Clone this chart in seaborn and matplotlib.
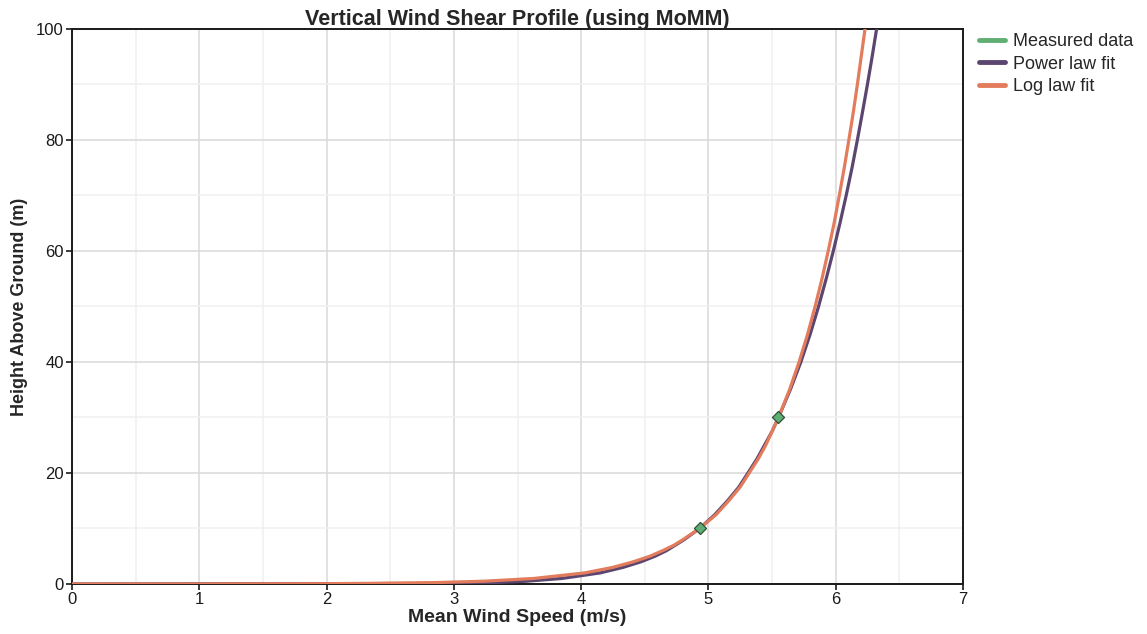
import matplotlib
matplotlib.use("Agg")
import matplotlib.pyplot as plt
from matplotlib.lines import Line2D
from matplotlib.ticker import MultipleLocator
import seaborn as sns
import pandas as pd

# ---- data ----
measured_speed = [4.93, 5.55]
measured_height = [10, 30]

power_height = [0, 0.1, 0.25, 0.5, 1, 2, 3, 4, 5, 6, 7, 8, 10, 12.5, 15, 17.5, 20, 22.5, 25, 27.5, 30,
                35, 40, 45, 50, 55, 60, 65, 70, 75, 80, 85, 90, 95, 100, 105]
power_speed = [0.0, 3.00, 3.31, 3.57, 3.85, 4.15, 4.33, 4.47, 4.58, 4.67, 4.74, 4.81, 4.93, 5.05, 5.15,
               5.24, 5.31, 5.38, 5.44, 5.50, 5.55, 5.643, 5.726, 5.799, 5.865, 5.925, 5.981, 6.033,
               6.082, 6.128, 6.170, 6.210, 6.249, 6.286, 6.321, 6.354]

log_height = [0, 0.01, 0.05, 0.1, 0.25, 0.5, 1, 2, 3, 4, 5, 6, 7, 8, 10, 12.5, 15, 17.5, 20, 22.5, 25,
              27.5, 30, 35, 40, 45, 50, 55, 60, 65, 70, 75, 80, 85, 90, 95, 100, 105]
log_speed = [0.0, 1.03, 1.94, 2.33, 2.85, 3.24, 3.63, 4.03, 4.25, 4.41, 4.54, 4.64, 4.73, 4.80, 4.93,
             5.06, 5.16, 5.25, 5.32, 5.39, 5.45, 5.50, 5.55, 5.637, 5.712, 5.779, 5.838, 5.892, 5.941,
             5.987, 6.028, 6.067, 6.103, 6.138, 6.170, 6.200, 6.230, 6.257]

series_names = ["Measured data", "Power law fit", "Log law fit"]
colors = {"Measured data": "#5fae74", "Power law fit": "#5b4670", "Log law fit": "#e27c5c"}

title = "Vertical Wind Shear Profile (using MoMM)"
xlabel = "Mean Wind Speed (m/s)"
ylabel = "Height Above Ground (m)"

# ---- build frames ----
df_fit = pd.concat([
    pd.DataFrame({"speed": power_speed, "height": power_height, "series": "Power law fit"}),
    pd.DataFrame({"speed": log_speed, "height": log_height, "series": "Log law fit"}),
])
df_meas = pd.DataFrame({"speed": measured_speed, "height": measured_height, "series": "Measured data"})

sns.set_style("white")
plt.rcParams["font.family"] = ["Liberation Sans", "DejaVu Sans"]

fig = plt.figure(figsize=(11.47, 6.34), dpi=100)
ax = fig.add_axes([0.0628, 0.0789, 0.7768, 0.8754])

sns.lineplot(data=df_fit, x="speed", y="height", hue="series", sort=False,
             palette=colors, hue_order=["Power law fit", "Log law fit"],
             linewidth=2.3, estimator=None, legend=False, ax=ax, zorder=3)
sns.scatterplot(data=df_meas, x="speed", y="height", color=colors["Measured data"],
                marker="D", s=38, edgecolor="#2f4f38", linewidth=0.9, legend=False, ax=ax, zorder=5)

ax.set_xlim(0, 7)
ax.set_ylim(0, 100)
ax.xaxis.set_major_locator(MultipleLocator(1))
ax.xaxis.set_minor_locator(MultipleLocator(0.5))
ax.yaxis.set_major_locator(MultipleLocator(20))
ax.yaxis.set_minor_locator(MultipleLocator(10))
ax.grid(which="major", color="#d9d9d9", linewidth=1.1, zorder=0)
ax.grid(which="minor", color="#f0f0f0", linewidth=1.1, zorder=0)
ax.set_axisbelow(True)

for s in ax.spines.values():
    s.set_color("#1a1a1a")
    s.set_linewidth(1.4)

ax.tick_params(axis="both", which="major", direction="out", length=4, width=1.2,
               color="#1a1a1a", labelsize=12, labelcolor="#1a1a1a", pad=2,
               bottom=True, left=True, top=False, right=False)
ax.tick_params(axis="both", which="minor", length=0)

ax.set_title(title, fontsize=15.5, fontweight="bold", pad=3)
ax.set_xlabel(xlabel, fontsize=14, fontweight="bold", labelpad=1)
ax.set_ylabel(ylabel, fontsize=13, fontweight="bold", labelpad=6)

handles = [Line2D([0], [0], color=colors[n], linewidth=3.5) for n in series_names]
leg = ax.legend(handles, series_names, loc="upper left", bbox_to_anchor=(1.004, 1.015),
                frameon=False, fontsize=13, handlelength=1.4, handletextpad=0.45,
                labelspacing=0.3, borderaxespad=0.3)

fig.savefig("out.png", dpi=100)
